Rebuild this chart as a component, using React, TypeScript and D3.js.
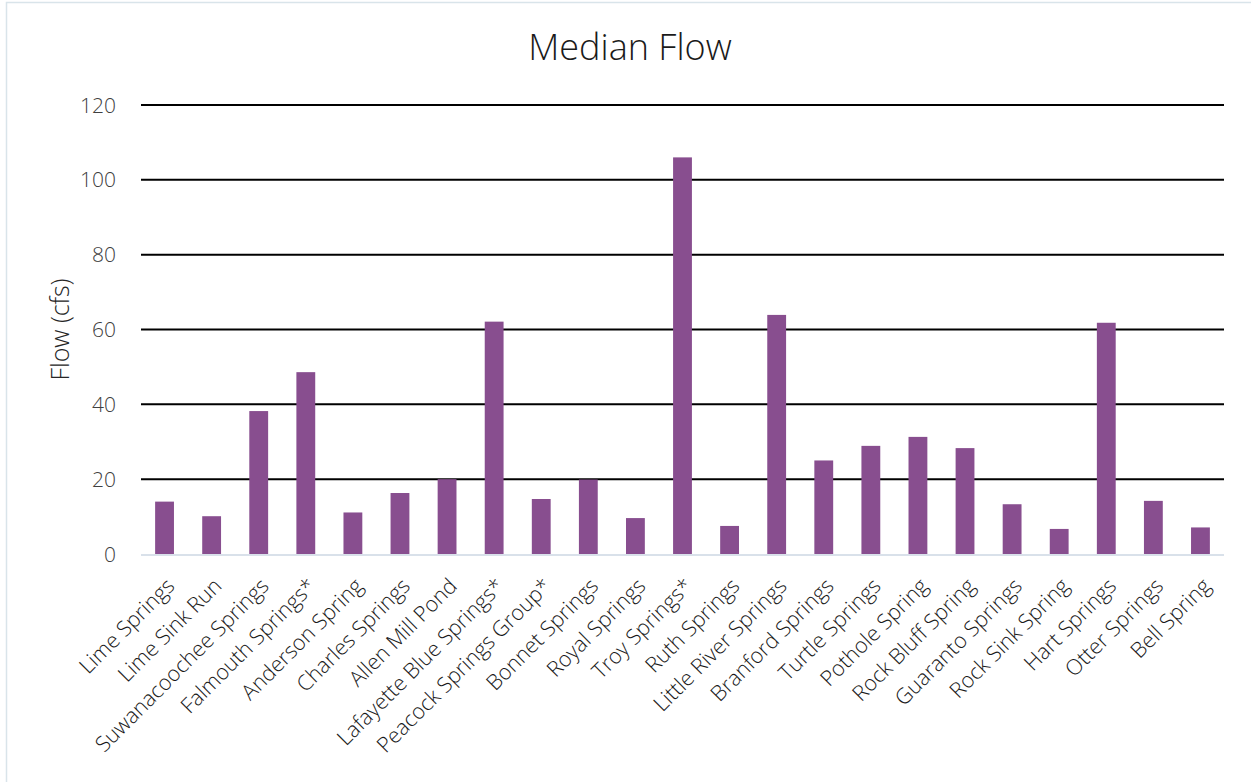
import React, { useEffect, useRef } from "react";
import * as d3 from "d3";

const springs = [
  "Lime Springs",
  "Lime Sink Run",
  "Suwanacoochee Springs",
  "Falmouth Springs*",
  "Anderson Spring",
  "Charles Springs",
  "Allen Mill Pond",
  "Lafayette Blue Springs*",
  "Peacock Springs Group*",
  "Bonnet Springs",
  "Royal Springs",
  "Troy Springs*",
  "Ruth Springs",
  "Little River Springs",
  "Branford Springs",
  "Turtle Springs",
  "Pothole Spring",
  "Rock Bluff Spring",
  "Guaranto Springs",
  "Rock Sink Spring",
  "Hart Springs",
  "Otter Springs",
  "Bell Spring",
];

const medianFlow = [
  14.0, 10.1, 38.2, 48.6, 11.1, 16.3, 20.0, 62.1, 14.7, 19.9, 9.6, 106.0,
  7.5, 63.9, 25.0, 28.9, 31.3, 28.3, 13.3, 6.7, 61.8, 14.2, 7.1,
];

const yTicks = [0, 20, 40, 60, 80, 100, 120];

const W = 1251;
const H = 782;
const FONT = "'Open Sans', 'Noto Sans', sans-serif";

export default function App() {
  const ref = useRef<SVGSVGElement>(null);

  useEffect(() => {
    const svg = d3.select(ref.current);
    svg.selectAll("*").remove();

    const left = 141;
    const right = 1224;
    const top = 105;
    const bottom = 554;

    const x = d3.scaleBand<string>().domain(springs).range([left, right]).paddingInner(0.6).paddingOuter(0.3);
    const y = d3.scaleLinear().domain([0, 120]).range([bottom, top]);

    svg.append("rect").attr("width", W).attr("height", H).attr("fill", "#ffffff");
    svg
      .append("rect")
      .attr("x", 6.5)
      .attr("y", 2.5)
      .attr("width", W)
      .attr("height", H)
      .attr("fill", "none")
      .attr("stroke", "#d9e4ea")
      .attr("stroke-width", 1.5);

    svg
      .append("text")
      .attr("x", 630)
      .attr("y", 60)
      .attr("text-anchor", "middle")
      .attr("font-family", FONT)
      .attr("font-size", 36)
      .attr("font-weight", 300)
      .attr("fill", "#1a1a1a")
      .text("Median Flow");

    // horizontal gridlines
    svg
      .append("g")
      .selectAll("line")
      .data(yTicks.filter((t) => t > 0))
      .join("line")
      .attr("x1", left)
      .attr("x2", right)
      .attr("y1", (d) => y(d))
      .attr("y2", (d) => y(d))
      .attr("stroke", "#000000")
      .attr("stroke-width", 2);

    // y tick labels
    svg
      .append("g")
      .selectAll("text")
      .data(yTicks)
      .join("text")
      .attr("x", 116)
      .attr("y", (d) => y(d))
      .attr("dy", "0.36em")
      .attr("text-anchor", "end")
      .attr("font-family", FONT)
      .attr("font-size", 21)
      .attr("font-weight", 300)
      .attr("fill", "#404040")
      .text((d) => String(d));

    svg
      .append("text")
      .attr("transform", `translate(69,${(top + bottom) / 2}) rotate(-90)`)
      .attr("text-anchor", "middle")
      .attr("font-family", FONT)
      .attr("font-size", 25)
      .attr("font-weight", 300)
      .attr("fill", "#262626")
      .text("Flow (cfs)");

    // bars
    svg
      .append("g")
      .selectAll("rect")
      .data(springs)
      .join("rect")
      .attr("x", (d) => x(d)!)
      .attr("width", x.bandwidth())
      .attr("y", (_, i) => y(medianFlow[i]))
      .attr("height", (_, i) => bottom - y(medianFlow[i]))
      .attr("fill", "#884e8f");

    // baseline
    svg
      .append("line")
      .attr("x1", left)
      .attr("x2", right)
      .attr("y1", bottom + 1)
      .attr("y2", bottom + 1)
      .attr("stroke", "#d9e1ea")
      .attr("stroke-width", 2);

    // category labels, rotated
    svg
      .append("g")
      .selectAll("text")
      .data(springs)
      .join("text")
      .attr(
        "transform",
        (d) => `translate(${x(d)! + x.bandwidth() / 2 + 6},${bottom + 28}) rotate(-45)`
      )
      .attr("text-anchor", "end")
      .attr("dy", "0.35em")
      .attr("font-family", FONT)
      .attr("font-size", 21.5)
      .attr("font-weight", 300)
      .attr("fill", "#1a1a1a")
      .text((d) => d);
  }, []);

  return (
    <svg
      ref={ref}
      width={W}
      height={H}
      style={{ position: "absolute", left: 0, top: 0 }}
    />
  );
}
